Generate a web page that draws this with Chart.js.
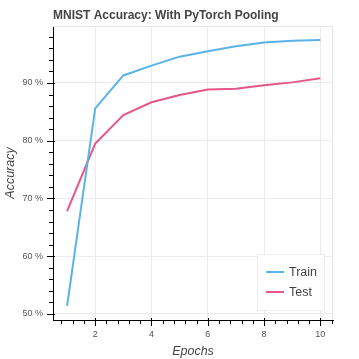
<!DOCTYPE html>
<html>
<head>
<meta charset="utf-8">
<script src="https://cdn.jsdelivr.net/npm/chart.js@4"></script>
<style>
html, body { margin: 0; padding: 0; background: #fff; }
#wrap { width: 359px; height: 359px; }
</style>
</head>
<body>
<div id="wrap"><canvas id="accChart" width="359" height="359"></canvas></div>
<script>
// ===== Data =====
const epochs = [1, 2, 3, 4, 5, 6, 7, 8, 9, 10];
const trainAcc = [51.4, 85.6, 91.3, 93.0, 94.55, 95.5, 96.35, 97.0, 97.3, 97.45];
const testAcc = [67.8, 79.5, 84.45, 86.65, 87.9, 88.85, 89.0, 89.6, 90.1, 90.8];
const xTicks = [2, 4, 6, 8, 10];
const yTicks = [50, 60, 70, 80, 90];

const titleText = "MNIST Accuracy: With PyTorch Pooling";
const FONT = "'Liberation Sans', Arial, Helvetica, sans-serif";

// ===== Extras: title, minor ticks, outline, legend =====
const bokehBits = {
  id: "bokehBits",
  afterDraw(chart) {
    const ctx = chart.ctx;
    const a = chart.chartArea;
    const xs = chart.scales.x;
    const ys = chart.scales.y;
    ctx.save();

    // outline top/right
    ctx.strokeStyle = "#e5e5e5";
    ctx.lineWidth = 1;
    ctx.beginPath();
    ctx.moveTo(a.left, a.top + 0.5);
    ctx.lineTo(a.right - 0.5, a.top + 0.5);
    ctx.lineTo(a.right - 0.5, a.bottom);
    ctx.stroke();

    // ticks
    ctx.strokeStyle = "#000";
    ctx.beginPath();
    for (let v = 0.8; v < xs.max; v += 0.4) {
      const px = Math.round(xs.getPixelForValue(v)) + 0.5;
      const major = Math.abs(v / 2 - Math.round(v / 2)) < 1e-6;
      ctx.moveTo(px, a.bottom - (major ? 2 : 0));
      ctx.lineTo(px, a.bottom + (major ? 6 : 4));
    }
    for (let v = 50; v < ys.max; v += 2) {
      const py = Math.round(ys.getPixelForValue(v)) + 0.5;
      const major = v % 10 === 0;
      ctx.moveTo(a.left + (major ? 2 : 0), py);
      ctx.lineTo(a.left - (major ? 6 : 4), py);
    }
    ctx.stroke();

    // title
    ctx.fillStyle = "#444";
    ctx.font = "bold 12px " + FONT;
    ctx.textBaseline = "alphabetic";
    ctx.textAlign = "left";
    ctx.fillText(titleText, a.left, 19);

    // legend
    const lx = 257, ly = 254, lw = 67, lh = 56;
    ctx.fillStyle = "rgba(255,255,255,0.95)";
    ctx.fillRect(lx, ly, lw, lh);
    ctx.strokeStyle = "#eeeeee";
    ctx.strokeRect(lx + 0.5, ly + 0.5, lw, lh);
    ctx.font = "12.5px " + FONT;
    ctx.textBaseline = "middle";
    chart.data.datasets.forEach((ds, i) => {
      const y = ly + 18 + i * 20;
      ctx.strokeStyle = ds.borderColor;
      ctx.lineWidth = 2;
      ctx.beginPath();
      ctx.moveTo(lx + 9, y);
      ctx.lineTo(lx + 27, y);
      ctx.stroke();
      ctx.fillStyle = "#444";
      ctx.fillText(ds.label, lx + 32, y + 1);
    });
    ctx.restore();
  }
};

// ===== Chart =====
new Chart(document.getElementById("accChart"), {
  type: "line",
  data: {
    labels: epochs,
    datasets: [{
      label: "Train",
      data: epochs.map((e, i) => ({ x: e, y: trainAcc[i] })),
      borderColor: "#59b3e9",
      borderWidth: 2,
      pointRadius: 0,
      tension: 0,
      fill: false
    }, {
      label: "Test",
      data: epochs.map((e, i) => ({ x: e, y: testAcc[i] })),
      borderColor: "#e6568a",
      borderWidth: 2,
      pointRadius: 0,
      tension: 0,
      fill: false
    }]
  },
  options: {
    responsive: false,
    animation: false,
    layout: { padding: { top: 26, right: 26, left: 0, bottom: 0 } },
    plugins: {
      legend: { display: false },
      title: { display: false },
      tooltip: { enabled: false }
    },
    scales: {
      x: {
        type: "linear",
        min: 0.5,
        max: 10.45,
        afterBuildTicks: (s) => { s.ticks = xTicks.map(v => ({ value: v })); },
        afterFit: (s) => { s.height = 39; },
        grid: { color: "#ebebeb", drawTicks: false },
        border: { color: "#000", width: 1 },
        ticks: {
          padding: 9,
          color: "#555",
          font: { family: FONT, size: 9 },
          maxRotation: 0
        },
        title: {
          display: true,
          text: "Epochs",
          color: "#444",
          padding: { top: 2, bottom: 0 },
          font: { family: FONT, size: 12.5, style: "italic" }
        }
      },
      y: {
        min: 48.96,
        max: 99.86,
        afterBuildTicks: (s) => { s.ticks = yTicks.map(v => ({ value: v })); },
        afterFit: (s) => { s.width = 53; },
        grid: { color: "#ebebeb", drawTicks: false },
        border: { color: "#000", width: 1 },
        ticks: {
          padding: 10,
          color: "#555",
          font: { family: FONT, size: 9 },
          callback: (v) => v + " %"
        },
        title: {
          display: true,
          text: "Accuracy",
          color: "#444",
          padding: { top: 3, bottom: 4 },
          font: { family: FONT, size: 12.5, style: "italic" }
        }
      }
    }
  },
  plugins: [bokehBits]
});
</script>
</body>
</html>
